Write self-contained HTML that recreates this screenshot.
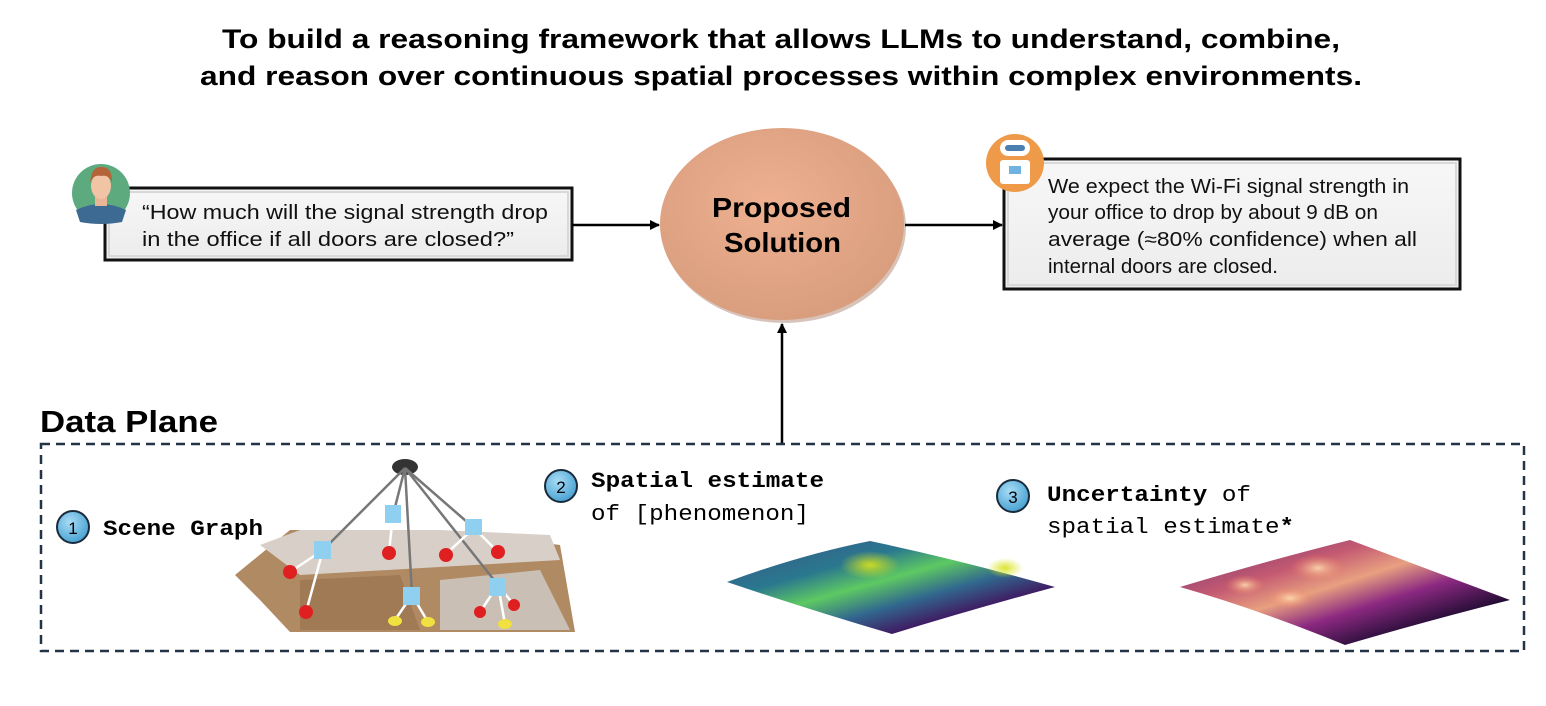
<!DOCTYPE html>
<html><head><meta charset="utf-8"><style>
html,body{margin:0;padding:0;background:#fff;}
svg{display:block;}
</style></head><body>
<svg width="1546" height="706" viewBox="0 0 1546 706" xmlns="http://www.w3.org/2000/svg">
<defs>
<marker id="ah" markerWidth="10" markerHeight="10" refX="9" refY="5" orient="auto" markerUnits="userSpaceOnUse"><path d="M0,0 L10,5 L0,10 z" fill="#000"/></marker>
<radialGradient id="eg" cx="45%" cy="40%" r="60%"><stop offset="0" stop-color="#eeb090"/><stop offset="1" stop-color="#d99e7e"/></radialGradient>
<linearGradient id="vir" x1="0" y1="0" x2="1" y2="1"><stop offset="0" stop-color="#3b528b"/><stop offset="0.3" stop-color="#2a788e"/><stop offset="0.45" stop-color="#5ec962"/><stop offset="0.6" stop-color="#31688e"/><stop offset="0.8" stop-color="#440154"/><stop offset="1" stop-color="#3b528b"/></linearGradient>
<radialGradient id="vhi" cx="0.5" cy="0.5" r="0.5"><stop offset="0" stop-color="#d8e219" stop-opacity="0.9"/><stop offset="1" stop-color="#d8e219" stop-opacity="0"/></radialGradient>
<linearGradient id="mag" x1="0" y1="0" x2="1" y2="1"><stop offset="0" stop-color="#6a2c70"/><stop offset="0.3" stop-color="#c45a72"/><stop offset="0.45" stop-color="#e8a080"/><stop offset="0.6" stop-color="#8c2981"/><stop offset="0.8" stop-color="#1a0a2e"/><stop offset="1" stop-color="#8c2981"/></linearGradient>
<radialGradient id="mhi" cx="0.5" cy="0.5" r="0.5"><stop offset="0" stop-color="#fcdcb0" stop-opacity="0.9"/><stop offset="1" stop-color="#f08060" stop-opacity="0"/></radialGradient>
<linearGradient id="boxg" x1="0" y1="0" x2="0" y2="1"><stop offset="0" stop-color="#f7f7f7"/><stop offset="1" stop-color="#ececec"/></linearGradient>
<radialGradient id="bub" cx="40%" cy="35%" r="65%"><stop offset="0" stop-color="#a8dcf5"/><stop offset="1" stop-color="#4aa3d3"/></radialGradient>
</defs>

<text x="222" y="48" textLength="1118" lengthAdjust="spacingAndGlyphs" font-family="Liberation Sans, sans-serif" font-weight="bold" font-size="27">To build a reasoning framework that allows LLMs to understand, combine,</text>
<text x="200" y="85" textLength="1162" lengthAdjust="spacingAndGlyphs" font-family="Liberation Sans, sans-serif" font-weight="bold" font-size="27">and reason over continuous spatial processes within complex environments.</text>

<!-- user box -->
<rect x="105" y="188" width="467" height="72" fill="url(#boxg)" stroke="#111" stroke-width="3"/>
<rect x="109" y="192" width="459" height="64" fill="none" stroke="#d8d8d8" stroke-width="2"/>
<text font-family="Liberation Sans, sans-serif" font-size="20" fill="#111"><tspan x="142" y="219" textLength="406" lengthAdjust="spacingAndGlyphs">“How much will the signal strength drop</tspan></text>
<text font-family="Liberation Sans, sans-serif" font-size="20" fill="#111"><tspan x="142" y="246" textLength="372" lengthAdjust="spacingAndGlyphs">in the office if all doors are closed?”</tspan></text>
<circle cx="101" cy="193" r="29" fill="#5daa7f"/>
<path d="M76,210 Q101,198 126,210 L122,222 Q101,226 80,222z" fill="#3d6a93"/>
<rect x="95" y="196" width="12" height="10" fill="#e8b596"/>
<ellipse cx="101" cy="186" rx="10" ry="13" fill="#f0c4a4"/>
<path d="M90,182 Q92,166 101,167 Q112,166 112,182 Q108,174 101,176 Q94,174 90,182z" fill="#b5643a"/>

<line x1="572" y1="225" x2="659" y2="225" stroke="#000" stroke-width="2.5" marker-end="url(#ah)"/>

<ellipse cx="784" cy="227" rx="122" ry="96" fill="#9a6a50" opacity="0.4"/>
<ellipse cx="782" cy="224" rx="122" ry="96" fill="url(#eg)"/>
<text x="712" y="217" textLength="139" lengthAdjust="spacingAndGlyphs" font-family="Liberation Sans, sans-serif" font-weight="bold" font-size="28">Proposed</text>
<text x="724" y="252" textLength="117" lengthAdjust="spacingAndGlyphs" font-family="Liberation Sans, sans-serif" font-weight="bold" font-size="28">Solution</text>

<line x1="905" y1="225" x2="1002" y2="225" stroke="#000" stroke-width="2.5" marker-end="url(#ah)"/>

<!-- response box -->
<rect x="1004" y="159" width="456" height="130" fill="url(#boxg)" stroke="#111" stroke-width="3"/>
<rect x="1008" y="163" width="448" height="122" fill="none" stroke="#d8d8d8" stroke-width="2"/>
<g font-family="Liberation Sans, sans-serif" font-size="20" fill="#111">
<text x="1048" y="193" textLength="361" lengthAdjust="spacingAndGlyphs">We expect the Wi-Fi signal strength in</text>
<text x="1048" y="219" textLength="330" lengthAdjust="spacingAndGlyphs">your office to drop by about 9 dB on</text>
<text x="1048" y="246" textLength="369" lengthAdjust="spacingAndGlyphs">average (≈80% confidence) when all</text>
<text x="1048" y="273" textLength="230" lengthAdjust="spacingAndGlyphs">internal doors are closed.</text>
</g>
<circle cx="1015" cy="163" r="29" fill="#ef9a48"/>
<rect x="1000" y="140" width="30" height="16" rx="8" fill="#fff"/>
<rect x="1005" y="145" width="20" height="6" rx="3" fill="#4a7fb0"/>
<rect x="1000" y="160" width="30" height="24" rx="3" fill="#fff"/>
<rect x="1009" y="166" width="12" height="8" fill="#6fb4e0"/>

<line x1="782" y1="443" x2="782" y2="324" stroke="#000" stroke-width="2.5" marker-end="url(#ah)"/>

<text x="40" y="432" textLength="178" lengthAdjust="spacingAndGlyphs" font-family="Liberation Sans, sans-serif" font-weight="bold" font-size="31">Data Plane</text>
<rect x="41" y="444" width="1483" height="207" fill="none" stroke="#243447" stroke-width="2.5" stroke-dasharray="9,6"/>

<!-- labels -->
<circle cx="73" cy="527" r="16" fill="url(#bub)" stroke="#1a2a3a" stroke-width="2"/>
<text x="73" y="534" text-anchor="middle" font-family="Liberation Sans, sans-serif" font-size="17">1</text>
<text x="103" y="535" textLength="160" lengthAdjust="spacingAndGlyphs" font-family="Liberation Mono, monospace" font-weight="bold" font-size="22">Scene Graph</text>

<circle cx="561" cy="486" r="16" fill="url(#bub)" stroke="#1a2a3a" stroke-width="2"/>
<text x="561" y="493" text-anchor="middle" font-family="Liberation Sans, sans-serif" font-size="17">2</text>
<text x="591" y="487" textLength="233" lengthAdjust="spacingAndGlyphs" font-family="Liberation Mono, monospace" font-weight="bold" font-size="22">Spatial estimate</text>
<text x="591" y="520" textLength="218" lengthAdjust="spacingAndGlyphs" font-family="Liberation Mono, monospace" font-size="22">of [phenomenon]</text>

<circle cx="1013" cy="496" r="16" fill="url(#bub)" stroke="#1a2a3a" stroke-width="2"/>
<text x="1013" y="503" text-anchor="middle" font-family="Liberation Sans, sans-serif" font-size="17">3</text>
<text x="1047" y="501" textLength="204" lengthAdjust="spacingAndGlyphs" font-family="Liberation Mono, monospace" font-size="22"><tspan font-weight="bold">Uncertainty</tspan> of</text>
<text x="1047" y="533" textLength="247" lengthAdjust="spacingAndGlyphs" font-family="Liberation Mono, monospace" font-size="22">spatial estimate<tspan font-weight="bold">*</tspan></text>

<!-- floorplan -->
<polygon points="235,575 290,530 440,530 560,545 575,632 290,632 260,600" fill="#b08a62"/>
<polygon points="260,545 300,530 440,530 550,535 560,560 300,575" fill="#d8d0c8"/>
<polygon points="300,580 400,575 420,630 300,630" fill="#a07a55"/>
<polygon points="440,580 540,570 570,630 440,630" fill="#c9bfb5"/>
<ellipse cx="405" cy="467" rx="13" ry="8" fill="#333"/>
<g stroke="#777" stroke-width="2.5">
<line x1="405" y1="468" x2="323" y2="550"/><line x1="405" y1="468" x2="393" y2="515"/>
<line x1="405" y1="468" x2="412" y2="595"/><line x1="405" y1="468" x2="474" y2="528"/>
<line x1="405" y1="468" x2="498" y2="585"/>
</g>
<g stroke="#fff" stroke-width="2.5">
<line x1="323" y1="550" x2="290" y2="572"/><line x1="323" y1="550" x2="306" y2="612"/>
<line x1="393" y1="515" x2="389" y2="552"/><line x1="474" y1="528" x2="446" y2="554"/><line x1="474" y1="528" x2="498" y2="552"/>
<line x1="412" y1="595" x2="395" y2="620"/><line x1="412" y1="595" x2="428" y2="622"/>
<line x1="498" y1="585" x2="480" y2="612"/><line x1="498" y1="585" x2="514" y2="605"/><line x1="498" y1="585" x2="505" y2="624"/>
</g>
<g fill="#8fd0f0"><rect x="385" y="505" width="16" height="18"/><rect x="314" y="541" width="17" height="18"/><rect x="465" y="519" width="17" height="16"/><rect x="403" y="587" width="17" height="18"/><rect x="490" y="578" width="16" height="18"/></g>
<g fill="#e02020"><circle cx="290" cy="572" r="7"/><circle cx="306" cy="612" r="7"/><circle cx="389" cy="553" r="7"/><circle cx="446" cy="555" r="7"/><circle cx="498" cy="552" r="7"/><circle cx="480" cy="612" r="6"/><circle cx="514" cy="605" r="6"/></g>
<g fill="#f0e040"><ellipse cx="395" cy="621" rx="7" ry="5"/><ellipse cx="428" cy="622" rx="7" ry="5"/><ellipse cx="505" cy="624" rx="7" ry="5"/></g>

<!-- surfaces -->
<path d="M727,582 Q800,555 870,541 Q960,560 1055,587 Q970,610 892,634 Q810,610 727,582z" fill="url(#vir)"/>
<ellipse cx="870" cy="565" rx="30" ry="14" fill="url(#vhi)"/>
<ellipse cx="1005" cy="568" rx="18" ry="10" fill="url(#vhi)"/>
<path d="M1180,587 Q1270,560 1350,540 Q1430,570 1510,600 Q1430,620 1345,645 Q1260,610 1180,587z" fill="url(#mag)"/>
<ellipse cx="1318" cy="568" rx="28" ry="14" fill="url(#mhi)"/>
<ellipse cx="1290" cy="598" rx="24" ry="11" fill="url(#mhi)"/>
<ellipse cx="1245" cy="585" rx="20" ry="10" fill="url(#mhi)"/>
</svg>
</body></html>
